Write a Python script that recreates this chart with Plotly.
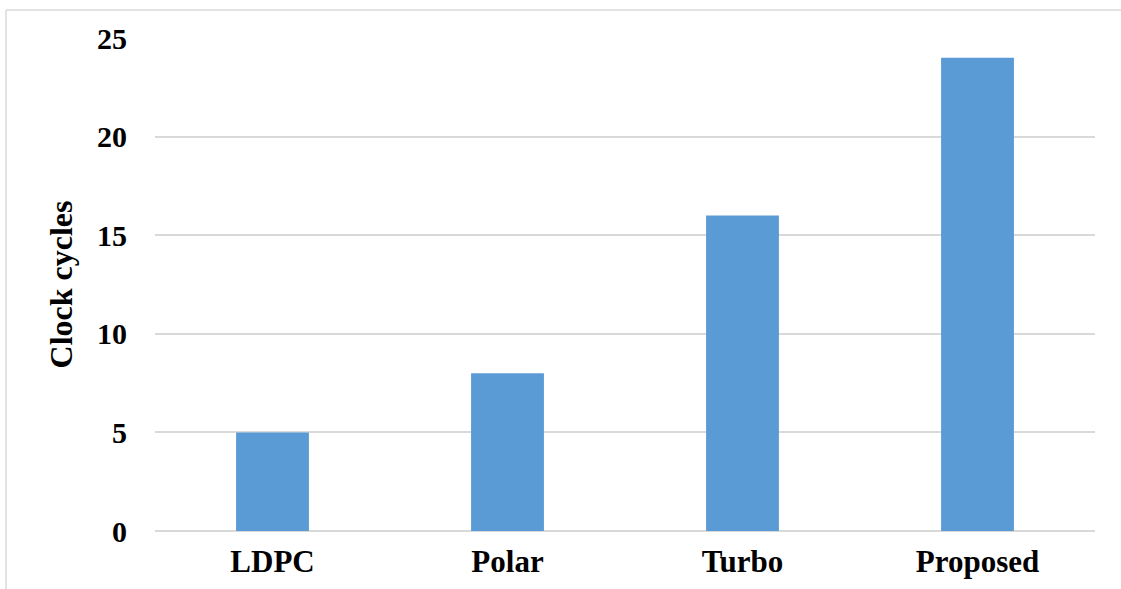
import plotly.graph_objects as go

# Decoder latency comparison
schemes = ["LDPC", "Polar", "Turbo", "Proposed"]
clock_cycles = [5, 8, 16, 24]
y_ticks = [0, 5, 10, 15, 20, 25]

FONT = "Liberation Serif"

fig = go.Figure(
    go.Bar(
        x=schemes,
        y=clock_cycles,
        marker=dict(color="#5b9bd5", line=dict(width=0)),
        width=0.31,
    )
)

fig.update_layout(
    width=1121,
    height=589,
    margin=dict(l=155, r=26, t=38, b=58),
    paper_bgcolor="white",
    plot_bgcolor="white",
    showlegend=False,
    font=dict(family=FONT, size=30, color="#000000"),
    xaxis=dict(
        automargin=False,
        showgrid=False,
        showline=False,
        zeroline=False,
        ticks="",
        ticklabelstandoff=9,
        tickfont=dict(family=FONT, size=31, color="#000000", weight="bold"),
    ),
    yaxis=dict(
        automargin=False,
        range=[0, 25],
        tickvals=y_ticks,
        showgrid=True,
        gridcolor="#d9d9d9",
        gridwidth=1.5,
        zeroline=True,
        zerolinecolor="#d9d9d9",
        zerolinewidth=1.5,
        showline=False,
        ticks="",
        ticklabelstandoff=27,
        tickfont=dict(family=FONT, size=30, color="#000000", weight="bold"),
        title=dict(
            text="Clock cycles",
            font=dict(family=FONT, size=32, color="#000000", weight="bold"),
            standoff=14,
        ),
    ),
    shapes=[
        # light frame along the top and left edges of the chart area
        dict(type="line", xref="paper", yref="paper",
             x0=-0.1585, x1=1.2, y0=1.0568, y1=1.0568,
             line=dict(color="#d9d9d9", width=1.5)),
        dict(type="line", xref="paper", yref="paper",
             x0=-0.1585, x1=-0.1585, y0=1.0568, y1=-0.3,
             line=dict(color="#d9d9d9", width=1.5)),
    ],
)

fig.write_html("out.html")
